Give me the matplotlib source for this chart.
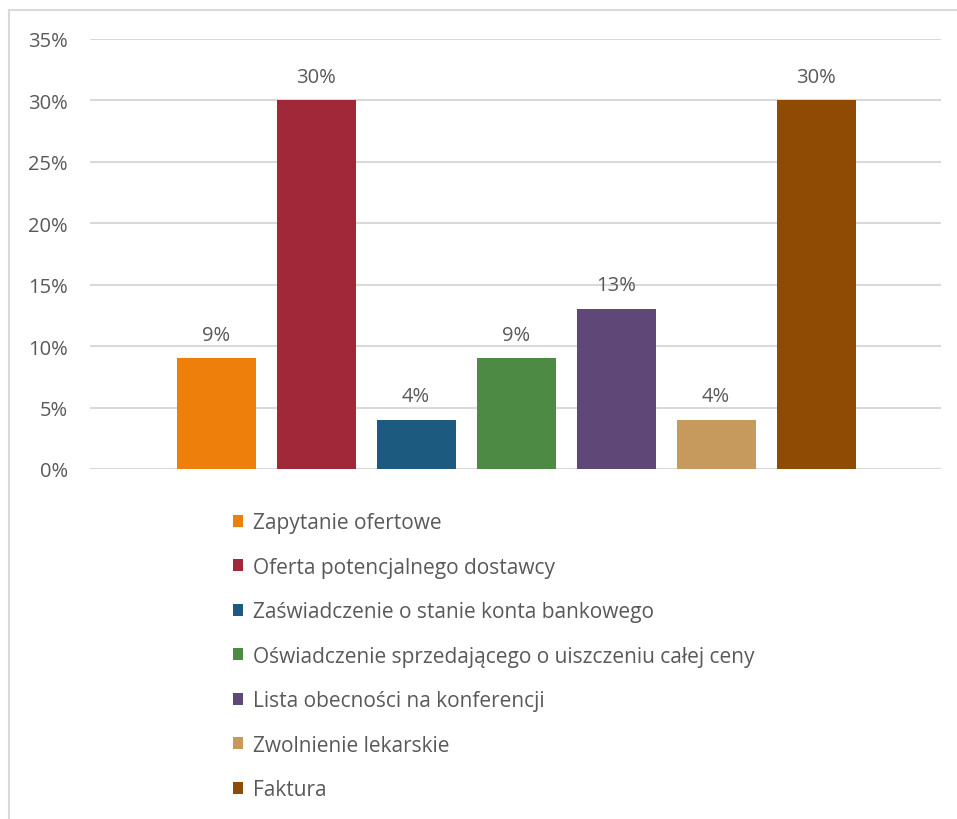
import matplotlib
matplotlib.use("Agg")
import matplotlib.pyplot as plt
from matplotlib.lines import Line2D

plt.rcParams['font.family'] = ['Open Sans', 'DejaVu Sans']

categories = [
    "Zapytanie ofertowe",
    "Oferta potencjalnego dostawcy",
    "Zaświadczenie o stanie konta bankowego",
    "Oświadczenie sprzedającego o uiszczeniu całej ceny",
    "Lista obecności na konferencji",
    "Zwolnienie lekarskie",
    "Faktura",
]
values = [9, 30, 4, 9, 13, 4, 30]
colors = ["#EF7F0B", "#A12838", "#1D5A7F", "#4D8A44", "#5F4777", "#C69A5D", "#8F4A03"]
yticks = [0, 5, 10, 15, 20, 25, 30, 35]

text_color = "#595959"
grid_color = "#D9D9D9"
fs = 14.5

W, H = 957, 820
fig = plt.figure(figsize=(W / 100, H / 100), dpi=100)

# chart area frame (left and top edges visible)
fig.add_artist(Line2D([9 / W, 9 / W], [0, 1 - 11 / H], color=grid_color, lw=1.5,
                      transform=fig.transFigure))
fig.add_artist(Line2D([9 / W, 1], [1 - 11 / H, 1 - 11 / H], color=grid_color, lw=1.5,
                      transform=fig.transFigure))

ax = fig.add_axes([90 / W, 1 - 470 / H, (941 - 90) / W, (470 - 40) / H])
x = list(range(len(categories)))
bars = ax.bar(x, values, width=0.79, color=colors, zorder=2)

for xi, v in zip(x, values):
    ax.annotate(f"{v}%", (xi, v), xytext=(0, 10), textcoords="offset points",
                ha="center", va="bottom", fontsize=fs, color=text_color)

ax.set_xlim(-1.26, 7.25)
ax.set_ylim(0, 35)
ax.set_yticks(yticks)
ax.set_yticklabels([f"{t}%" for t in yticks])
ax.set_xticks([])
ax.yaxis.grid(True, color=grid_color, lw=1.5, zorder=0)
ax.set_axisbelow(True)
for s in ax.spines.values():
    s.set_visible(False)
ax.tick_params(axis="y", length=0, pad=16, labelsize=fs, labelcolor=text_color)

fig.legend(bars, categories, loc="upper left", bbox_to_anchor=(233 / W, 1 - 513 / H),
           frameon=False, fontsize=15, labelcolor=text_color,
           handlelength=0.5, handleheight=0.5, handletextpad=0.45,
           labelspacing=1.13, borderaxespad=0, borderpad=0)

fig.savefig("out.png", dpi=100, facecolor="white")
